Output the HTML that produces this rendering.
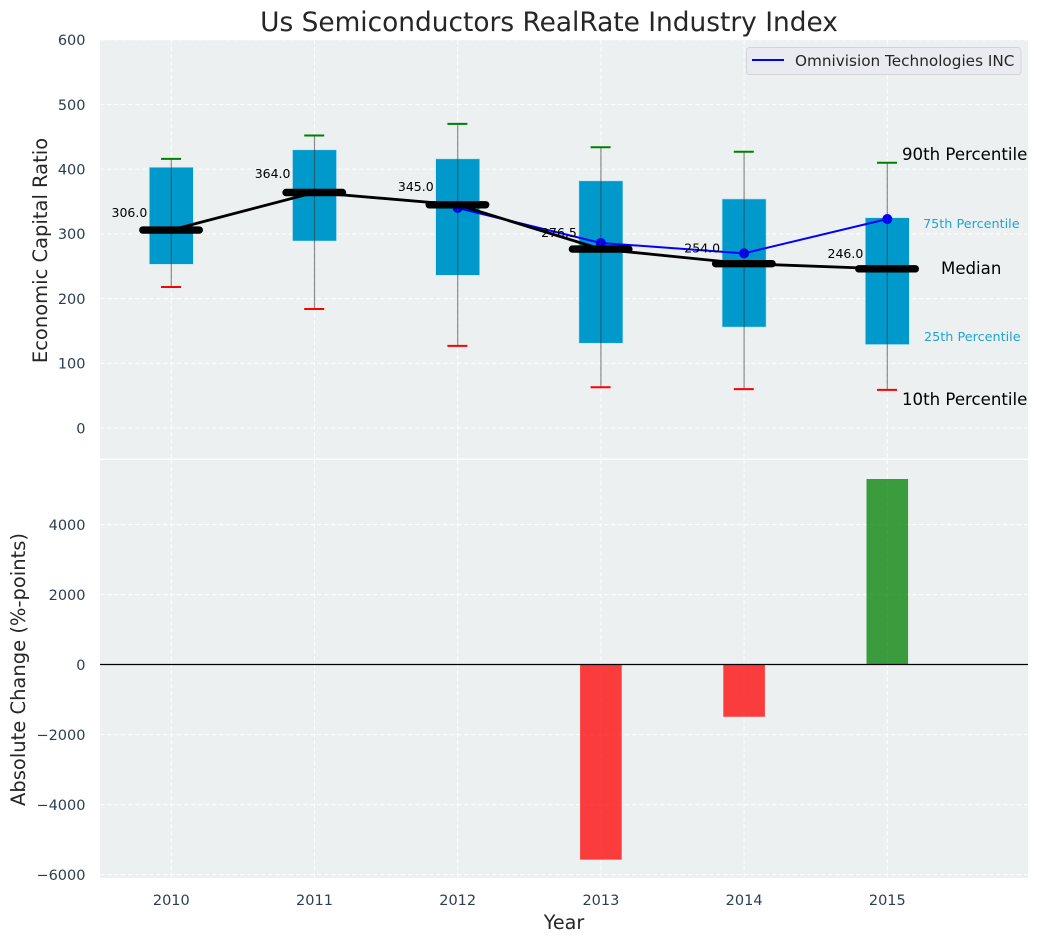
<!DOCTYPE html>
<html lang="en">
<head>
<meta charset="utf-8">
<title>Us Semiconductors RealRate Industry Index</title>
<style>
html,body{margin:0;padding:0;background:#fff;}
svg{display:block;font-family:"DejaVu Sans","Liberation Sans",sans-serif;}
</style>
</head>
<body>
<svg id="chart" xmlns="http://www.w3.org/2000/svg" width="1039" height="942" viewBox="0 0 1039 942">
  <rect x="0" y="0" width="1039" height="942" fill="#ffffff"/>
  <rect x="100" y="40" width="928" height="418.5" fill="#ecf0f1"/>
  <rect x="100" y="460" width="928" height="418" fill="#ecf0f1"/>
  <g id="grid"></g>
  <g id="boxes"></g>
  <g id="company"></g>
  <g id="whiskers"></g>
  <g id="medians"></g>
  <g id="bars"></g>
  <line x1="100" x2="1028" y1="664.5" y2="664.5" stroke="#000" stroke-width="1.2"/>
  <g id="ticks"></g>

  <text x="549" y="31" text-anchor="middle" font-size="26.4" fill="#262626">Us Semiconductors RealRate Industry Index</text>
  <text transform="translate(47 250.5) rotate(-90)" text-anchor="middle" font-size="19.5" fill="#262626">Economic Capital Ratio</text>
  <text transform="translate(25 669.5) rotate(-90)" text-anchor="middle" font-size="19.5" fill="#262626">Absolute Change (%-points)</text>
  <text x="564" y="929" text-anchor="middle" font-size="19.2" fill="#262626">Year</text>

  <text x="902" y="160" font-size="16.6" fill="#000">90th Percentile</text>
  <text x="923" y="228" font-size="12.8" fill="#1fa5d0">75th Percentile</text>
  <text x="941" y="274" font-size="16.6" fill="#000">Median</text>
  <text x="924" y="341" font-size="12.8" fill="#1fa5d0">25th Percentile</text>
  <text x="902" y="405" font-size="16.6" fill="#000">10th Percentile</text>

  <g>
    <rect x="746.5" y="47.5" width="274.5" height="27" rx="3" fill="#e9ebf0" stroke="#d3d5da" stroke-width="1"/>
    <line x1="752" x2="784" y1="60" y2="60" stroke="#0000ff" stroke-width="2"/>
    <text x="795" y="66" font-size="15.25" fill="#262626">Omnivision Technologies INC</text>
  </g>
</svg>
<script>
const years = [2010, 2011, 2012, 2013, 2014, 2015];
const p90 = [416, 452, 470, 434, 427, 410];
const p75 = [403, 430, 416, 382, 354, 325];
const medianValues = [306, 364, 345, 276.5, 254, 246];
const p25 = [253, 289, 236, 131, 156, 129];
const p10 = [218, 184, 127, 63, 60, 59];
const companyYears = [2012, 2013, 2014, 2015];
const companyValues = [340, 286, 270, 323];
const changeValues = [0, 0, 0, -5570, -1490, 5300];
const topTicks = [0, 100, 200, 300, 400, 500, 600];
const bottomTicks = [-6000, -4000, -2000, 0, 2000, 4000];

const NS = 'http://www.w3.org/2000/svg';
function xScale(v) { return 171.3 + (v - 2010) * 143.2; }
function yTop(v) { return 428 - v * 0.647; }
function yBottom(v) { return 664.6 - v * 0.03502; }
function make(parent, tag, attrs, text) {
  const el = document.createElementNS(NS, tag);
  Object.keys(attrs).forEach(function (k) { el.setAttribute(k, attrs[k]); });
  if (text !== undefined) el.textContent = text;
  document.getElementById(parent).appendChild(el);
  return el;
}
function fmt(v) { return v < 0 ? '\u2212' + Math.abs(v) : String(v); }

/* grid */
const gridStyle = { stroke: '#ffffff', 'stroke-width': 1.1, 'stroke-dasharray': '4.5 2.5', 'stroke-opacity': 0.85 };
topTicks.forEach(function (t) {
  const el = make('grid', 'line', Object.assign({ x1: 100, x2: 1028, y1: yTop(t), y2: yTop(t) }, gridStyle));
  
  
  const lab = make('ticks', 'text', { x: 85.5, y: yTop(t) + 5.3, 'text-anchor': 'end', 'font-size': 14.5, fill: '#2c3e50' }, fmt(t));
  
  
});
bottomTicks.forEach(function (t) {
  const el = make('grid', 'line', Object.assign({ x1: 100, x2: 1028, y1: yBottom(t), y2: yBottom(t) }, gridStyle));
  
  
  const lab = make('ticks', 'text', { x: 85.5, y: yBottom(t) + 5.3, 'text-anchor': 'end', 'font-size': 14.5, fill: '#2c3e50' }, fmt(t));
  
  
});
years.forEach(function (yr) {
  const a = make('grid', 'line', Object.assign({ x1: xScale(yr), x2: xScale(yr), y1: 40, y2: 458.5 }, gridStyle));
  
  
  const b = make('grid', 'line', Object.assign({ x1: xScale(yr), x2: xScale(yr), y1: 460, y2: 878 }, gridStyle));
  
  
  const lab = make('ticks', 'text', { x: xScale(yr), y: 905, 'text-anchor': 'middle', 'font-size': 14.5, fill: '#2c3e50' }, String(yr));
  
  
});

/* boxes and whiskers */
years.forEach(function (yr, i) {
  const cx = xScale(yr);
  const box = make('boxes', 'rect', { x: cx - 22, y: yTop(p75[i]), width: 44, height: yTop(p25[i]) - yTop(p75[i]), fill: '#0099cc', stroke: '#bfe3ef', 'stroke-width': 0.6 });
  
  
  const w = make('whiskers', 'line', { x1: cx, x2: cx, y1: yTop(p90[i]), y2: yTop(p10[i]), stroke: '#333', 'stroke-opacity': 0.55, 'stroke-width': 1.2 });
  
  
  const capHigh = make('whiskers', 'line', { x1: cx - 10.3, x2: cx + 9.7, y1: yTop(p90[i]), y2: yTop(p90[i]), stroke: '#008000', 'stroke-width': 2 });
  
  
  const capLow = make('whiskers', 'line', { x1: cx - 10.3, x2: cx + 9.7, y1: yTop(p10[i]), y2: yTop(p10[i]), stroke: '#ff0000', 'stroke-width': 2 });
  
  
});

/* company series */
const companyPath = make('company', 'polyline', {
  points: companyYears.map(function (yr, i) { return xScale(yr) + ',' + yTop(companyValues[i]); }).join(' '),
  fill: 'none', stroke: '#0000ff', 'stroke-width': 2
});


companyYears.forEach(function (yr, i) {
  const dot = make('company', 'circle', { cx: xScale(yr), cy: yTop(companyValues[i]), r: 5, fill: '#0000ff' });
  
  
});

/* medians */
const medianPath = make('medians', 'polyline', {
  points: years.map(function (yr, i) { return xScale(yr) + ',' + yTop(medianValues[i]); }).join(' '),
  fill: 'none', stroke: '#000', 'stroke-width': 2.8
});


years.forEach(function (yr, i) {
  const cx = xScale(yr), cy = yTop(medianValues[i]);
  const seg = make('medians', 'line', { x1: cx - 28.5, x2: cx + 28, y1: cy, y2: cy, stroke: '#000', 'stroke-width': 7.4, 'stroke-linecap': 'round' });
  
  
  const lab = make('medians', 'text', { x: cx - 24, y: cy - 12.8 - (medianValues[i] - 306) * 0.031, 'text-anchor': 'end', 'font-size': 12.5, fill: '#000' }, medianValues[i].toFixed(1));
  
  
});

/* change bars */
years.forEach(function (yr, i) {
  const v = changeValues[i];
  if (v === 0) return;
  const top = Math.min(yBottom(v), yBottom(0));
  const h = Math.abs(yBottom(v) - yBottom(0));
  const bar = make('bars', 'rect', { x: xScale(yr) - 20.8, y: top, width: 41.6, height: h, fill: v < 0 ? '#ff0000' : '#008000', 'fill-opacity': 0.75 });
  
  
});
</script>
</body>
</html>
